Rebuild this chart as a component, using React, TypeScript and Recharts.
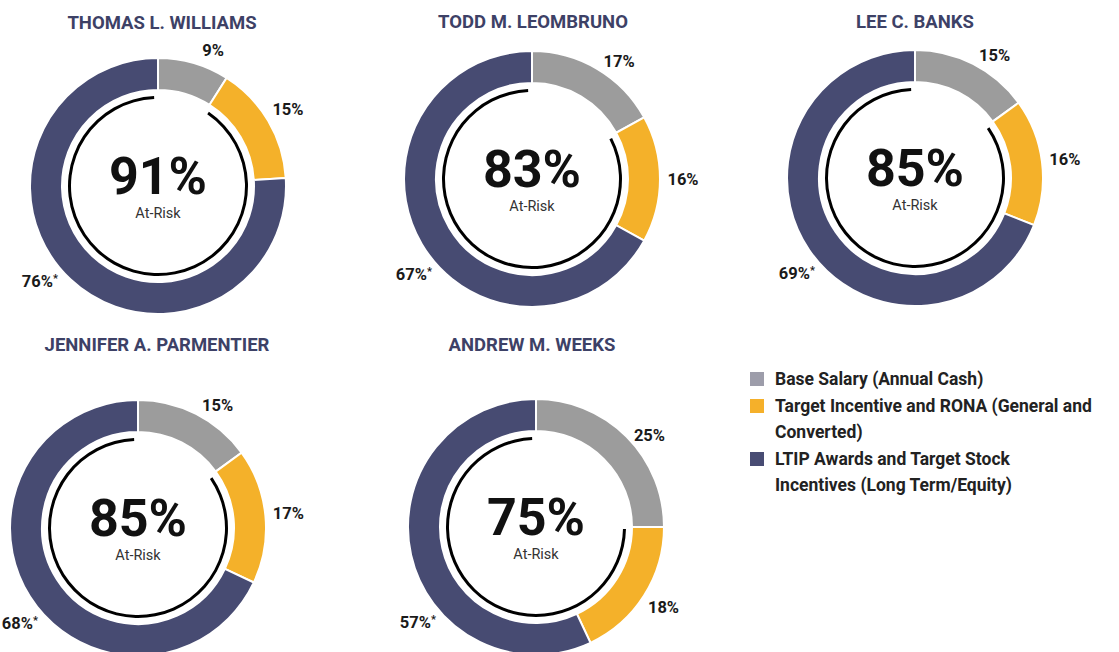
import React from 'react';
import { PieChart, Pie, Cell } from 'recharts';

// ---------- data ----------
const executives = [
  'THOMAS L. WILLIAMS',
  'TODD M. LEOMBRUNO',
  'LEE C. BANKS',
  'JENNIFER A. PARMENTIER',
  'ANDREW M. WEEKS',
];
const baseSalary = [9, 17, 15, 15, 25];
const targetIncentive = [15, 16, 16, 17, 18];
const ltipAwards = [76, 67, 69, 68, 57];
const atRisk = [91, 83, 85, 85, 75];
const componentNames = ['Base Salary', 'Target Incentive', 'LTIP Awards'];
const legendLines = [
  ['Base Salary (Annual Cash)'],
  ['Target Incentive and RONA (General and', 'Converted)'],
  ['LTIP Awards and Target Stock', 'Incentives (Long Term/Equity)'],
];

// ---------- layout / style ----------
const W = 1119;
const H = 652;
const FONT = 'Roboto, "DejaVu Sans", sans-serif';
const COLORS = ['#9c9c9c', '#f4b12a', '#474b72'];
const LEGEND_COLORS = ['#9d9daa', '#f5b02a', '#484c73'];
const TITLE_COLOR = '#3d4166';
const centers = [
  { cx: 158, cy: 186, tx: 162, ty: 23 },
  { cx: 532, cy: 179, tx: 533, ty: 22 },
  { cx: 915, cy: 178, tx: 915, ty: 22 },
  { cx: 138, cy: 528, tx: 157, ty: 345 },
  { cx: 536, cy: 527, tx: 532, ty: 345 },
];
const OUTER = 128;
const INNER = 96;

const RAD = Math.PI / 180;

function makeLabel(pct: number) {
  return (props: any) => {
    const { cx, cy, midAngle, index, value } = props;
    // angle measured clockwise from 12 o'clock
    const mid = 90 - midAngle;
    let theta = mid;
    let r = 151;
    if (index === 0) {
      theta = mid + 6;
      r = 146;
    } else if (index === 2) {
      theta = 231;
      r = 152;
    }
    const x = cx + r * Math.sin(theta * RAD);
    const y = cy - r * Math.cos(theta * RAD);
    return (
      <g>
        <text
          x={x}
          y={y}
          textAnchor="middle"
          dominantBaseline="central"
          fontFamily={FONT}
          fontWeight={700}
          fontSize={16.5}
          fill="#1a1a1a"
        >
          {value}%
          {index === 2 ? (
            <tspan fontSize={11} dy={-4}>*</tspan>
          ) : null}
        </text>
        {index === 0 ? (
          <g>
            <text
              x={cx}
              y={cy + 8}
              textAnchor="middle"
              fontFamily={FONT}
              fontWeight={700}
              fontSize={52}
              fill="#111"
            >
              {pct}%
            </text>
            <text
              x={cx}
              y={cy + 32}
              textAnchor="middle"
              fontFamily={FONT}
              fontSize={14.5}
              fill="#333"
            >
              At-Risk
            </text>
          </g>
        ) : null}
      </g>
    );
  };
}

export default function App() {
  return (
    <div style={{ position: 'absolute', left: 0, top: 0, width: W, height: H, background: '#fff' }}>
      <PieChart width={W} height={H} margin={{ top: 0, right: 0, bottom: 0, left: 0 }}>
        {executives.map((name, i) => {
          const arc = [
            { name: 'fixed', value: baseSalary[i] },
            { name: 'at-risk', value: atRisk[i] },
          ];
          return (
            <Pie
              key={'arc' + i}
              data={arc}
              dataKey="value"
              cx={centers[i].cx}
              cy={centers[i].cy}
              innerRadius={87}
              outerRadius={90}
              startAngle={90}
              endAngle={-270}
              paddingAngle={2.5}
              stroke="none"
              isAnimationActive={false}
            >
              <Cell fill="none" />
              <Cell fill="#000000" />
            </Pie>
          );
        })}
        {executives.map((name, i) => {
          const ring = [
            { name: componentNames[0], value: baseSalary[i] },
            { name: componentNames[1], value: targetIncentive[i] },
            { name: componentNames[2], value: ltipAwards[i] },
          ];
          return (
            <Pie
              key={'ring' + i}
              data={ring}
              dataKey="value"
              cx={centers[i].cx}
              cy={centers[i].cy}
              innerRadius={INNER}
              outerRadius={OUTER}
              startAngle={90}
              endAngle={-270}
              stroke="#ffffff"
              strokeWidth={2}
              isAnimationActive={false}
              labelLine={false}
              label={makeLabel(atRisk[i])}
            >
              {ring.map((d, j) => (
                <Cell key={j} fill={COLORS[j]} />
              ))}
            </Pie>
          );
        })}
      </PieChart>

      {executives.map((name, i) => (
        <div
          key={'t' + i}
          style={{
            position: 'absolute',
            left: centers[i].tx,
            top: centers[i].ty,
            transform: 'translate(-50%, -50%)',
            whiteSpace: 'nowrap',
            fontFamily: FONT,
            fontWeight: 700,
            fontSize: 18.5,
            color: TITLE_COLOR,
          }}
        >
          {name}
        </div>
      ))}

      <div style={{ position: 'absolute', left: 750, top: 366, fontFamily: FONT }}>
        {legendLines.map((lines, i) => (
          <div key={i} style={{ position: 'relative', paddingLeft: 25 }}>
            <div
              style={{
                position: 'absolute',
                left: 0,
                top: 6,
                width: 14,
                height: 14,
                background: LEGEND_COLORS[i],
              }}
            />
            {lines.map((ln, k) => (
              <div
                key={k}
                style={{
                  fontSize: 17.5,
                  fontWeight: 700,
                  color: '#222',
                  lineHeight: '26.5px',
                  whiteSpace: 'nowrap',
                }}
              >
                {ln}
              </div>
            ))}
          </div>
        ))}
      </div>
    </div>
  );
}
